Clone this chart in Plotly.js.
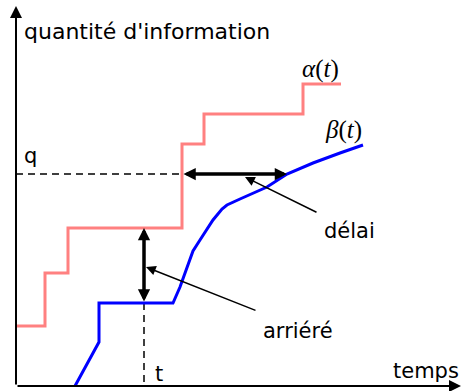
<!DOCTYPE html>
<html>
<head>
<meta charset="utf-8">
<script src="https://cdn.plot.ly/plotly-3.0.1.min.js"></script>
<style>html,body{margin:0;padding:0;background:#fff;}#plot{width:461px;height:391px;}</style>
</head>
<body>
<div id="plot"></div>
<script>
// Arrival curve alpha(t): step function (time, quantity)
const alphaT = [0, 29, 52, 166, 188, 287, 325];
const alphaQ = [60, 113, 158, 242, 272, 302, 302];
// Departure curve beta(t)
const betaT = [59, 83, 83, 157, 164, 177, 184, 197, 206, 211, 224, 251, 271, 297, 324, 347];
const betaQ = [0, 44, 83, 83, 99, 135, 146, 166, 177, 181, 187, 199, 212, 223, 233, 241];
// Reference level q and instant t
const qLevel = 212;
const tInstant = 128;
const delayStart = 166, delayEnd = 271;   // alpha and beta at level q
const backlogTop = 158, backlogBottom = 83; // alpha(t) and beta(t)
const axisXEnd = 445, axisYEnd = 380;

const sans = 'DejaVu Sans, sans-serif';
const serif = 'Liberation Serif, serif';

const traces = [
  {x: [0, delayStart], y: [qLevel, qLevel], mode: 'lines', line: {color: 'black', width: 1.5, dash: '7px,5px'}, hoverinfo: 'skip'},
  {x: [tInstant, tInstant], y: [backlogBottom, 0], mode: 'lines', line: {color: 'black', width: 1.5, dash: '7px,5px'}, hoverinfo: 'skip'},
  {x: alphaT, y: alphaQ, mode: 'lines', line: {color: '#ff8080', width: 3, shape: 'hv'}, hoverinfo: 'skip'},
  {x: betaT, y: betaQ, mode: 'lines', line: {color: '#0000ff', width: 3}, hoverinfo: 'skip'}
];

function arrow(x0, y0, x1, y1, w, side, size) {
  return {x: x1, y: y1, ax: x0, ay: y0, xref: 'x', yref: 'y', axref: 'x', ayref: 'y',
    showarrow: true, arrowhead: 2, arrowsize: size, arrowwidth: w, arrowcolor: 'black',
    arrowside: side, text: '', standoff: 0, startstandoff: 0};
}
function label(x, y, text, font, size) {
  return {x: x, y: y, xref: 'x', yref: 'y', text: text, showarrow: false,
    xanchor: 'left', yanchor: 'middle', font: {family: font, size: size, color: 'black'}};
}

const annotations = [
  arrow(0, 0, 0, axisYEnd, 2, 'end', 1.2),
  arrow(0, 0, axisXEnd, 0, 2, 'end', 1.2),
  arrow(delayStart, qLevel, delayEnd, qLevel, 3.5, 'end+start', 0.7),
  arrow(tInstant, backlogBottom, tInstant, backlogTop, 3.5, 'end+start', 0.7),
  arrow(302, 173, 229, 209, 1.5, 'end', 1.3),
  arrow(241, 75, 130, 119, 1.5, 'end', 1.3),
  label(6, 355, "quantité d'information", sans, 22),
  label(6, 230, 'q', sans, 21),
  label(137, 12, 't', sans, 21),
  label(375, 15, 'temps', sans, 21),
  label(306, 155, 'délai', sans, 21),
  label(245, 55, 'arriéré', sans, 21),
  label(284, 317, '<i>α</i>(<i>t</i>)', serif, 25),
  label(307, 256, '<i>β</i>(<i>t</i>)', serif, 25)
];

const layout = {
  width: 461, height: 391,
  margin: {l: 0, r: 0, t: 0, b: 0},
  paper_bgcolor: 'white', plot_bgcolor: 'white',
  showlegend: false,
  xaxis: {range: [-16, 445], visible: false, fixedrange: true},
  yaxis: {range: [-5, 386], visible: false, fixedrange: true},
  annotations: annotations
};

Plotly.newPlot('plot', traces, layout, {displayModeBar: false, staticPlot: true});
</script>
</body>
</html>
